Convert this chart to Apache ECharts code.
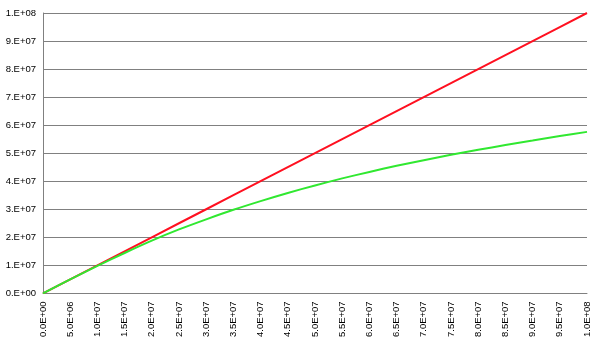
<!DOCTYPE html>
<html>
<head>
<meta charset="utf-8">
<script src="https://cdn.jsdelivr.net/npm/echarts@6/dist/echarts.min.js"></script>
<style>html,body{margin:0;padding:0;background:#fff}#c{width:600px;height:340px}</style>
</head>
<body>
<div id="c"></div>
<script>
// x positions (units of 1e6)
var xValues = [0,5,10,15,20,25,30,35,40,45,50,55,60,65,70,75,80,85,90,95,100];
// red series (units of 1e6)
var redValues = [0,5,10,15,20,25,30,35,40,45,50,55,60,65,70,75,80,85,90,95,100];
// green series (units of 1e6)
var greenValues = [0,5.0,9.8,14.4,18.8,22.8,26.4,29.8,32.9,35.8,38.5,41.0,43.3,45.5,47.5,49.4,51.2,52.9,54.5,56.1,57.6];
var SCALE = 1e6;

function pairs(ys){ return xValues.map(function(x,i){ return [x*SCALE, ys[i]*SCALE]; }); }
function sci(v, dec){
  if (v === 0) return (dec ? '0.' + '0'.repeat(dec) : '0.') + 'E+00';
  var e = Math.floor(Math.log10(Math.abs(v)) + 1e-9);
  var m = v / Math.pow(10, e);
  var ms = dec ? m.toFixed(dec) : Math.round(m) + '.';
  if (dec && parseFloat(ms) >= 10) { e += 1; ms = (m/10).toFixed(dec); }
  var es = (e < 10 ? '0' : '') + e;
  return ms + 'E+' + es;
}
var chart = echarts.init(document.getElementById('c'));
chart.setOption({
  animation: false,
  backgroundColor: '#fff',
  grid: { left: 43, right: 13, top: 13, bottom: 46, containLabel: false },
  xAxis: {
    type: 'value', min: 0, max: 1e8, interval: 5e6,
    axisLine: { show: true, lineStyle: { color: '#808080', width: 1 } },
    axisTick: { show: false },
    splitLine: { show: false },
    axisLabel: { rotate: 90, margin: 8, fontSize: 9.5, fontFamily: 'Liberation Sans, Arial, sans-serif', color: '#000',
      formatter: function(v){ return sci(v, 1); } }
  },
  yAxis: {
    type: 'value', min: 0, max: 1e8, interval: 1e7,
    axisLine: { show: true, lineStyle: { color: '#808080', width: 1 } },
    axisTick: { show: false },
    splitLine: { show: true, lineStyle: { color: '#808080', width: 1 } },
    axisLabel: { margin: 7, fontSize: 9.5, fontFamily: 'Liberation Sans, Arial, sans-serif', color: '#000',
      formatter: function(v){ return sci(v, 0); } }
  },
  series: [
    { type: 'line', data: pairs(redValues), showSymbol: false, lineStyle: { color: '#ff1020', width: 2 }, itemStyle: { color: '#ff1020' } },
    { type: 'line', data: pairs(greenValues), smooth: 0.3, showSymbol: false, lineStyle: { color: '#30e830', width: 2 }, itemStyle: { color: '#30e830' } }
  ]
});
</script>
</body>
</html>
